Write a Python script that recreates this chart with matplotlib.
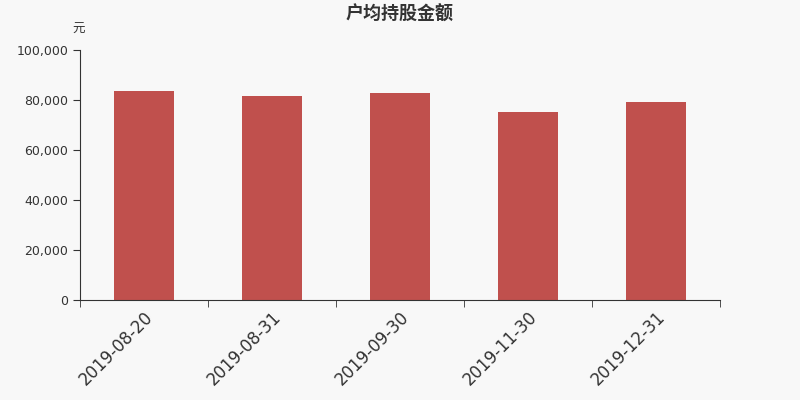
import numpy as np
import matplotlib
matplotlib.use("Agg")
import matplotlib.pyplot as plt
from matplotlib.ticker import FuncFormatter

plt.rcParams['font.family'] = ['DejaVu Sans', 'Noto Sans CJK SC']

dates = ["2019-08-20", "2019-08-31", "2019-09-30", "2019-11-30", "2019-12-31"]
values = [83700, 81600, 82700, 75200, 79200]

fig = plt.figure(figsize=(8, 4), dpi=100, facecolor='#f8f8f8')
ax = fig.add_axes([0.1, 0.25, 0.8, 0.625])
ax.set_facecolor('#f8f8f8')

x = np.arange(len(dates))
ax.bar(x, values, width=0.47, color='#c0504d')

ax.set_xlim(-0.5, len(dates) - 0.5)
ax.set_ylim(0, 100000)
ax.set_yticks(np.arange(0, 100001, 20000))
ax.yaxis.set_major_formatter(FuncFormatter(lambda v, p: '{:,.0f}'.format(v)))

ax.set_xticks(x)
ax.set_xticklabels(dates, rotation=45, ha='right', rotation_mode='anchor', fontsize=12, color='#333333')
ax.tick_params(axis='x', which='major', length=0, pad=6)
ax.set_xticks(np.arange(-0.5, len(dates)), minor=True)
ax.tick_params(axis='x', which='minor', length=5, color='#333333')
ax.tick_params(axis='y', length=5, labelsize=9, colors='#333333')

for s in ['top', 'right']:
    ax.spines[s].set_visible(False)
ax.spines['left'].set_color('#333333')
ax.spines['bottom'].set_color('#333333')

ax.text(0.008, 1.055, '元', transform=ax.transAxes, ha='right', va='bottom', fontsize=9,
        color='#333333', family=['Noto Sans CJK SC'])
fig.text(0.5, 0.965, '户均持股金额', ha='center', va='center', fontsize=13, fontweight='bold',
         color='#333333', family=['Noto Sans CJK SC'])

fig.savefig('out.png', dpi=100, facecolor=fig.get_facecolor())
